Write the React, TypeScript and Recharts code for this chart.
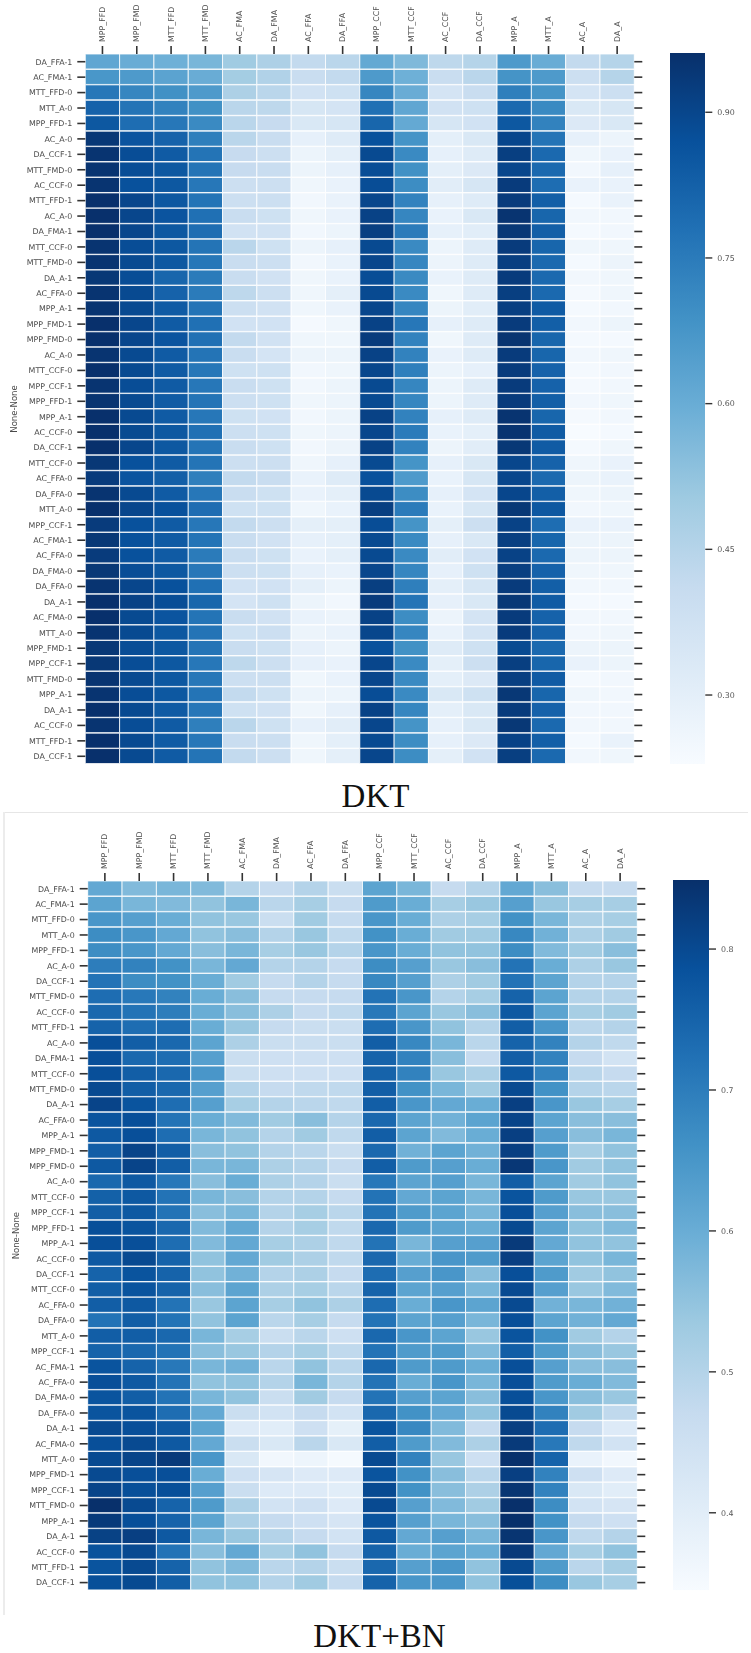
import React from "react";
import { BarChart, Bar, XAxis, YAxis, Cell } from "recharts";

const columns = ["MPP_FFD","MPP_FMD","MTT_FFD","MTT_FMD","AC_FMA","DA_FMA","AC_FFA","DA_FFA","MPP_CCF","MTT_CCF","AC_CCF","DA_CCF","MPP_A","MTT_A","AC_A","DA_A"];
const rowLabels = ["DA_FFA-1","AC_FMA-1","MTT_FFD-0","MTT_A-0","MPP_FFD-1","AC_A-0","DA_CCF-1","MTT_FMD-0","AC_CCF-0","MTT_FFD-1","AC_A-0","DA_FMA-1","MTT_CCF-0","MTT_FMD-0","DA_A-1","AC_FFA-0","MPP_A-1","MPP_FMD-1","MPP_FMD-0","AC_A-0","MTT_CCF-0","MPP_CCF-1","MPP_FFD-1","MPP_A-1","AC_CCF-0","DA_CCF-1","MTT_CCF-0","AC_FFA-0","DA_FFA-0","MTT_A-0","MPP_CCF-1","AC_FMA-1","AC_FFA-0","DA_FMA-0","DA_FFA-0","DA_A-1","AC_FMA-0","MTT_A-0","MPP_FMD-1","MPP_CCF-1","MTT_FMD-0","MPP_A-1","DA_A-1","AC_CCF-0","MTT_FFD-1","DA_CCF-1"];

const dktValues = [
[.62,.60,.59,.57,.50,.47,.42,.44,.61,.56,.43,.45,.66,.60,.42,.45],
[.67,.66,.63,.60,.49,.46,.40,.42,.66,.59,.40,.44,.68,.66,.39,.45],
[.76,.72,.69,.66,.47,.44,.37,.38,.72,.60,.36,.40,.74,.68,.36,.39],
[.82,.77,.73,.69,.44,.43,.35,.36,.78,.62,.37,.38,.80,.71,.34,.35],
[.85,.79,.76,.71,.44,.41,.34,.35,.81,.61,.35,.37,.85,.73,.33,.34],
[.94,.86,.82,.74,.44,.40,.29,.32,.87,.68,.30,.34,.90,.77,.29,.27],
[.95,.88,.84,.77,.41,.39,.27,.30,.89,.71,.29,.32,.92,.80,.26,.28],
[.95,.88,.85,.77,.41,.40,.27,.29,.88,.69,.30,.33,.90,.80,.25,.29],
[.95,.87,.85,.76,.39,.39,.26,.28,.88,.70,.31,.35,.93,.79,.28,.28],
[.96,.90,.85,.77,.39,.39,.25,.28,.90,.73,.29,.32,.93,.83,.24,.28],
[.96,.90,.86,.78,.40,.38,.26,.28,.91,.72,.28,.34,.95,.81,.25,.25],
[.96,.90,.85,.79,.37,.37,.25,.27,.92,.75,.29,.31,.94,.83,.24,.25],
[.95,.88,.85,.77,.44,.38,.27,.29,.89,.71,.27,.32,.93,.81,.26,.26],
[.95,.89,.85,.76,.40,.39,.25,.28,.90,.72,.27,.32,.92,.80,.24,.27],
[.94,.88,.81,.75,.40,.37,.26,.28,.88,.71,.28,.32,.93,.80,.25,.26],
[.95,.89,.82,.75,.43,.39,.26,.30,.89,.71,.26,.32,.92,.80,.24,.26],
[.95,.89,.84,.77,.39,.37,.26,.28,.90,.72,.27,.31,.92,.84,.24,.25],
[.96,.90,.84,.78,.37,.37,.24,.26,.91,.76,.29,.32,.93,.83,.25,.27],
[.96,.90,.86,.78,.42,.37,.26,.26,.93,.73,.26,.32,.95,.81,.24,.24],
[.95,.89,.84,.77,.40,.36,.27,.27,.91,.73,.28,.32,.93,.81,.25,.26],
[.96,.89,.84,.76,.38,.38,.25,.26,.90,.74,.27,.29,.93,.82,.24,.25],
[.95,.88,.84,.76,.40,.38,.25,.27,.89,.72,.27,.32,.93,.82,.24,.25],
[.95,.89,.84,.77,.39,.38,.26,.27,.89,.72,.27,.32,.93,.83,.25,.26],
[.96,.89,.84,.76,.38,.37,.25,.27,.91,.73,.29,.32,.95,.81,.24,.25],
[.96,.89,.85,.78,.39,.38,.26,.27,.90,.75,.28,.30,.95,.84,.23,.24],
[.96,.90,.85,.77,.40,.38,.25,.27,.91,.73,.27,.31,.94,.84,.24,.26],
[.94,.87,.84,.77,.39,.39,.26,.29,.89,.68,.29,.34,.90,.82,.26,.28],
[.93,.86,.83,.74,.42,.40,.28,.32,.87,.66,.28,.35,.90,.80,.27,.28],
[.95,.89,.84,.76,.40,.38,.28,.30,.89,.70,.29,.36,.90,.83,.26,.27],
[.96,.90,.87,.79,.38,.38,.26,.28,.92,.75,.28,.35,.94,.85,.25,.26],
[.93,.87,.84,.76,.42,.39,.30,.30,.88,.68,.30,.39,.91,.79,.28,.28],
[.94,.87,.84,.77,.40,.37,.29,.30,.89,.71,.29,.34,.92,.81,.27,.27],
[.93,.87,.84,.75,.40,.38,.28,.30,.89,.71,.31,.37,.91,.80,.27,.27],
[.94,.88,.85,.76,.39,.38,.29,.28,.90,.72,.29,.38,.92,.82,.26,.26],
[.95,.90,.87,.78,.37,.37,.30,.27,.92,.74,.30,.35,.93,.83,.25,.25],
[.96,.91,.88,.81,.36,.38,.27,.25,.93,.77,.29,.34,.94,.84,.24,.24],
[.96,.89,.86,.77,.40,.37,.28,.27,.91,.70,.27,.36,.93,.82,.25,.25],
[.95,.89,.85,.77,.38,.39,.27,.28,.90,.72,.28,.36,.93,.82,.25,.26],
[.94,.88,.85,.77,.40,.38,.29,.27,.87,.69,.32,.38,.89,.80,.27,.27],
[.94,.88,.85,.76,.43,.39,.29,.28,.90,.71,.30,.39,.92,.81,.28,.27],
[.95,.89,.85,.76,.39,.39,.26,.28,.90,.71,.30,.33,.92,.84,.24,.25],
[.95,.88,.85,.77,.42,.38,.27,.27,.88,.71,.34,.38,.94,.81,.26,.25],
[.96,.89,.84,.76,.38,.37,.26,.29,.91,.72,.30,.34,.93,.82,.25,.25],
[.95,.88,.84,.74,.44,.38,.29,.31,.90,.68,.29,.34,.94,.80,.25,.25],
[.96,.89,.84,.76,.40,.39,.26,.30,.89,.70,.29,.33,.91,.83,.24,.28],
[.96,.89,.84,.77,.42,.39,.26,.30,.90,.70,.30,.37,.92,.80,.25,.26],
];

const dktBnValues = [
[.61,.57,.58,.57,.50,.47,.50,.46,.62,.58,.47,.50,.61,.56,.47,.47],
[.62,.58,.57,.55,.58,.49,.52,.47,.64,.60,.52,.54,.63,.54,.52,.52],
[.65,.63,.60,.55,.54,.46,.53,.47,.65,.60,.51,.52,.66,.58,.51,.52],
[.67,.65,.61,.55,.56,.50,.54,.48,.66,.60,.53,.53,.68,.59,.51,.53],
[.67,.65,.61,.56,.58,.52,.54,.50,.65,.60,.55,.55,.67,.57,.53,.56],
[.70,.69,.66,.58,.61,.50,.50,.47,.67,.63,.54,.56,.72,.60,.51,.54],
[.72,.67,.66,.60,.53,.47,.50,.47,.68,.63,.51,.53,.72,.62,.50,.50],
[.73,.71,.69,.60,.56,.47,.47,.47,.72,.65,.50,.52,.75,.62,.50,.50],
[.74,.72,.70,.60,.56,.51,.47,.48,.71,.62,.54,.56,.77,.62,.52,.53],
[.75,.73,.73,.60,.54,.47,.46,.46,.73,.65,.55,.50,.76,.65,.49,.50],
[.79,.76,.74,.62,.51,.46,.46,.46,.76,.68,.58,.49,.75,.69,.50,.48],
[.79,.74,.73,.63,.46,.45,.45,.45,.75,.69,.56,.47,.76,.69,.47,.44],
[.79,.76,.74,.65,.46,.45,.45,.45,.75,.69,.54,.51,.77,.69,.49,.47],
[.80,.76,.74,.63,.50,.47,.48,.48,.76,.66,.58,.53,.80,.66,.50,.49],
[.81,.78,.73,.63,.52,.50,.49,.48,.76,.65,.61,.60,.82,.65,.54,.52],
[.78,.79,.72,.60,.57,.53,.56,.50,.74,.62,.59,.62,.81,.62,.56,.56],
[.77,.79,.73,.58,.55,.50,.53,.48,.76,.62,.57,.60,.82,.63,.56,.58],
[.76,.81,.76,.56,.55,.50,.49,.46,.74,.59,.62,.59,.82,.64,.52,.55],
[.77,.81,.76,.58,.58,.51,.50,.47,.76,.64,.63,.60,.835,.65,.53,.55],
[.74,.77,.71,.56,.60,.51,.50,.46,.71,.62,.63,.58,.76,.62,.53,.55],
[.755,.77,.72,.58,.56,.50,.50,.47,.72,.61,.62,.58,.78,.64,.54,.54],
[.76,.77,.72,.56,.58,.50,.52,.49,.72,.64,.62,.58,.79,.63,.56,.56],
[.79,.78,.74,.57,.61,.50,.52,.48,.74,.64,.62,.60,.80,.62,.55,.57],
[.79,.79,.73,.57,.61,.52,.51,.48,.72,.58,.63,.63,.83,.61,.55,.55],
[.77,.80,.75,.55,.61,.53,.51,.48,.74,.60,.65,.64,.82,.62,.55,.58],
[.75,.78,.75,.55,.59,.50,.51,.47,.73,.63,.65,.56,.79,.64,.53,.55],
[.76,.78,.75,.56,.62,.51,.52,.49,.75,.62,.63,.58,.80,.63,.54,.57],
[.76,.77,.72,.54,.62,.52,.55,.51,.73,.60,.65,.62,.80,.59,.58,.59],
[.72,.76,.72,.55,.62,.49,.52,.47,.72,.62,.63,.58,.79,.62,.59,.61],
[.76,.76,.74,.58,.52,.46,.49,.45,.74,.65,.62,.54,.78,.66,.53,.50],
[.75,.74,.72,.56,.54,.50,.52,.48,.72,.64,.64,.57,.76,.64,.56,.54],
[.78,.75,.71,.58,.59,.49,.55,.49,.74,.64,.64,.60,.79,.63,.56,.56],
[.79,.77,.72,.55,.55,.50,.58,.50,.72,.60,.65,.58,.79,.64,.60,.57],
[.78,.76,.72,.58,.55,.46,.53,.47,.72,.63,.62,.56,.79,.65,.56,.54],
[.78,.78,.73,.61,.46,.44,.47,.44,.74,.66,.61,.55,.80,.69,.53,.48],
[.80,.79,.77,.62,.41,.40,.45,.39,.78,.68,.57,.47,.82,.73,.47,.41],
[.79,.80,.77,.61,.46,.42,.49,.42,.76,.64,.57,.51,.83,.71,.48,.44],
[.80,.81,.83,.65,.42,.36,.37,.35,.80,.69,.54,.45,.85,.75,.38,.36],
[.80,.79,.79,.60,.45,.43,.41,.41,.78,.66,.56,.49,.82,.69,.45,.41],
[.81,.79,.79,.63,.46,.41,.41,.40,.80,.66,.56,.51,.84,.69,.42,.40],
[.85,.80,.75,.64,.51,.44,.45,.41,.80,.63,.57,.53,.85,.67,.44,.43],
[.83,.79,.75,.62,.51,.47,.45,.43,.78,.63,.58,.56,.85,.66,.47,.45],
[.815,.82,.77,.58,.54,.50,.47,.44,.77,.61,.63,.58,.84,.65,.48,.50],
[.785,.80,.72,.56,.61,.52,.55,.47,.75,.60,.62,.60,.83,.61,.52,.55],
[.78,.80,.75,.55,.57,.49,.50,.46,.74,.63,.65,.55,.80,.64,.49,.52],
[.79,.80,.76,.55,.55,.50,.53,.47,.75,.65,.65,.55,.79,.67,.54,.52],
];

const dktRange = [0.229, 0.961];
const dktBnRange = [0.345, 0.849];
const dktTicks = [0.3, 0.45, 0.6, 0.75, 0.9];
const dktBnTicks = [0.4, 0.5, 0.6, 0.7, 0.8];

const BLUES = ["#f7fbff","#deebf7","#c6dbef","#9ecae1","#6baed6","#4292c6","#2171b5","#08519c","#08306b"];
const rgb = (h: string) => [1, 3, 5].map((i) => parseInt(h.slice(i, i + 2), 16));
function blues(t: number) {
  const p = Math.max(0, Math.min(1, t)) * 8;
  const i = Math.min(7, Math.floor(p));
  const f = p - i;
  const a = rgb(BLUES[i]), b = rgb(BLUES[i + 1]);
  return `rgb(${a.map((v, k) => Math.round(v + (b[k] - v) * f)).join(",")})`;
}

const FONT = "'DejaVu Sans', sans-serif";
const TEXT = "#4a4a4a";
const TICK = "#333";
const colTicks = columns.map((_, i) => i + 0.5);

function TopTick({ x, y, payload }: any) {
  return (
    <text
      transform={`translate(${x},${y}) rotate(-90)`}
      textAnchor="start"
      dominantBaseline="central"
      fontFamily={FONT}
      fontSize={7.9}
      fill={TEXT}
    >
      {columns[Math.floor(payload.value)]}
    </text>
  );
}

function Heatmap({ values, range, left, top, plotW, plotH, labelOffset }: any) {
  const data = values.map((_: number[], r: number) => {
    const o: any = { row: r };
    columns.forEach((_c, c) => (o["c" + c] = 1));
    return o;
  });
  const W = 751, H = top + plotH + 10;
  return (
    <div style={{ position: "absolute", left: 0, top: 0, width: W, height: H, filter: "blur(0.4px)" }}>
      <BarChart
        width={W}
        height={H}
        data={data}
        layout="vertical"
        barCategoryGap={0}
        barGap={0}
        margin={{ top: 0, left: 0, right: 0, bottom: 10 }}
      >
        <XAxis
          type="number"
          orientation="top"
          height={top}
          domain={[0, 16]}
          ticks={colTicks}
          interval={0}
          tick={<TopTick />}
          tickSize={8}
          tickMargin={4}
          axisLine={false}
          tickLine={{ stroke: TICK, strokeWidth: 1.6 }}
          allowDataOverflow
        />
        <YAxis
          yAxisId="l"
          type="category"
          dataKey="row"
          orientation="left"
          width={left}
          interval={0}
          axisLine={false}
          tickSize={8}
          tickMargin={5}
          tickLine={{ stroke: TICK, strokeWidth: 1.6 }}
          tick={{ fontFamily: FONT, fontSize: 7.9, fill: TEXT }}
          tickFormatter={(i: number) => rowLabels[i]}
          label={{
            value: "None-None",
            angle: -90,
            position: "insideLeft",
            offset: labelOffset,
            style: { fontFamily: FONT, fontSize: 8.5, fill: TEXT, textAnchor: "middle" },
          }}
        />
        <YAxis
          yAxisId="r"
          type="category"
          dataKey="row"
          orientation="right"
          width={W - left - plotW}
          interval={0}
          axisLine={false}
          tickSize={8}
          tickLine={{ stroke: TICK, strokeWidth: 1.6 }}
          tickFormatter={() => ""}
        />
        {columns.map((_, c) => (
          <Bar
            key={c}
            yAxisId="l"
            dataKey={"c" + c}
            stackId="h"
            stroke="#fff"
            strokeWidth={0.8}
            isAnimationActive={false}
          >
            {values.map((row: number[], r: number) => (
              <Cell key={r} fill={blues((row[c] - range[0]) / (range[1] - range[0]))} />
            ))}
          </Bar>
        ))}
      </BarChart>
    </div>
  );
}

function Colorbar({ id, range, ticks, digits, left, top, plotW, plotH }: any) {
  const axisW = 40;
  const H = top + plotH + 10;
  return (
    <div style={{ position: "absolute", left, top: 0, width: plotW + axisW, height: H, filter: "blur(0.4px)" }}>
      <BarChart
        width={plotW + axisW}
        height={H}
        data={[{ name: "scale", span: range }]}
        barCategoryGap={0}
        margin={{ top, left: 0, right: 0, bottom: 10 }}
      >
        <defs>
          <linearGradient id={id} x1="0" y1="1" x2="0" y2="0">
            {BLUES.map((c, i) => (
              <stop key={i} offset={i / 8} stopColor={c} />
            ))}
          </linearGradient>
        </defs>
        <XAxis dataKey="name" hide />
        <YAxis
          type="number"
          orientation="right"
          width={axisW}
          domain={range}
          ticks={ticks}
          interval={0}
          axisLine={false}
          tickSize={7}
          tickMargin={5}
          tickLine={{ stroke: TICK, strokeWidth: 1.4 }}
          tick={{ fontFamily: FONT, fontSize: 7.9, fill: "#555" }}
          tickFormatter={(v: number) => v.toFixed(digits)}
          allowDataOverflow
        />
        <Bar dataKey="span" fill={`url(#${id})`} isAnimationActive={false} />
      </BarChart>
    </div>
  );
}

const titleStyle: React.CSSProperties = {
  position: "absolute",
  left: 0,
  width: 751,
  textAlign: "center",
  fontFamily: "'Liberation Serif', serif",
  fontSize: 33,
  lineHeight: "32px",
  height: 32,
  color: "#111",
  margin: 0,
};

export default function App() {
  return (
    <div style={{ position: "absolute", left: 0, top: 0, width: 751, height: 1653, overflow: "hidden", background: "#fff" }}>
      <div style={{ position: "absolute", left: 3, top: 812, width: 745, height: 1, background: "#e6e6e6" }} />
      <div style={{ position: "absolute", left: 3, top: 812, width: 2, height: 803, background: "#ececec" }} />
      <Heatmap values={dktValues} range={dktRange} left={85.3} top={54} plotW={549} plotH={710} labelOffset={14} />
      <Colorbar id="gradA" range={dktRange} ticks={dktTicks} digits={2} left={670} top={53} plotW={35.3} plotH={711} />
      <div style={{ ...titleStyle, top: 780 }}>DKT</div>
      <div style={{ position: "absolute", left: 0, top: 827, width: 751, height: 780 }}>
        <Heatmap values={dktBnValues} range={dktBnRange} left={87.7} top={54} plotW={549.6} plotH={709.3} labelOffset={16} />
        <Colorbar id="gradB" range={dktBnRange} ticks={dktBnTicks} digits={1} left={672.7} top={53} plotW={36} plotH={710.3} />
      </div>
      <div style={{ ...titleStyle, top: 1620, left: 4 }}>DKT+BN</div>
    </div>
  );
}
